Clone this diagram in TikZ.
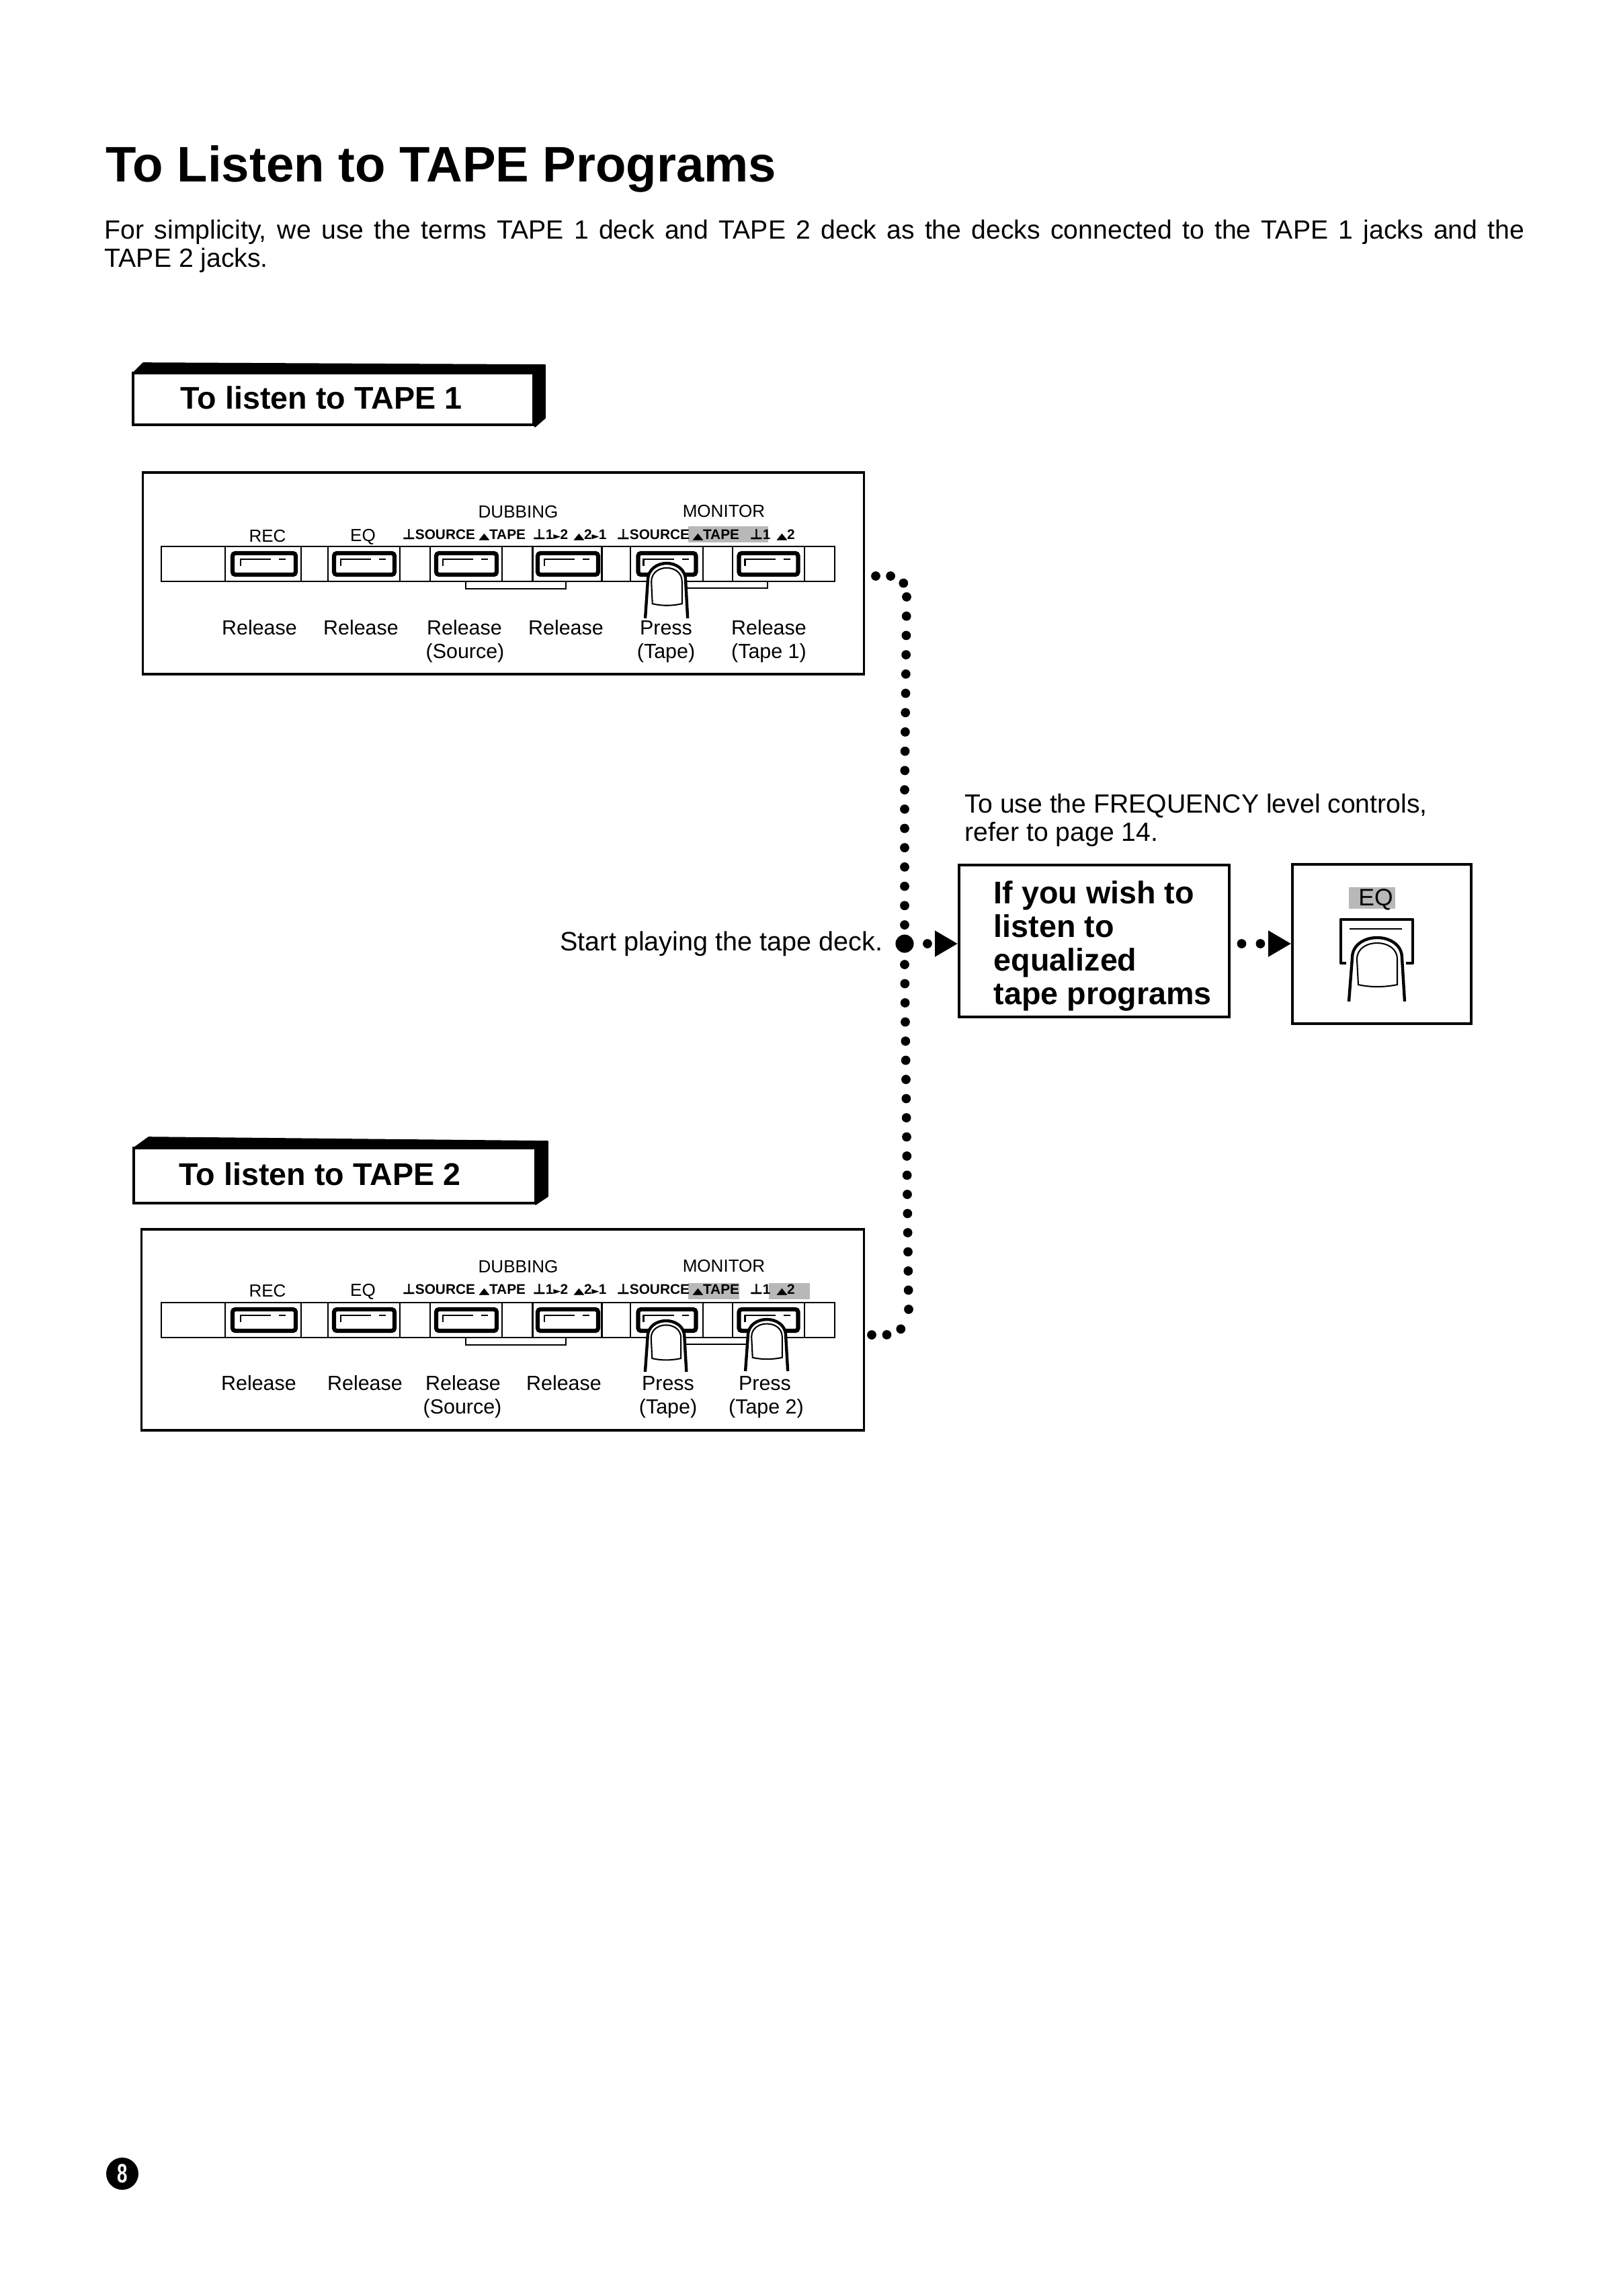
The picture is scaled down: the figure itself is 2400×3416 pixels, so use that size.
\documentclass[tikz,border=0pt]{standalone}
\usepackage{fontspec}
\setmainfont{Liberation Sans}
\newfontfamily\symfont[FakeBold=1.5]{DejaVu Sans}
\usetikzlibrary{arrows.meta,positioning,calc}
\definecolor{lampgray}{gray}{0.72}
\newcommand{\dnsym}{{\symfont ⊥}}
\newcommand{\upsym}{\scalebox{0.95}[0.6]{\symfont ▲}}
\newcommand{\rtsym}{{\fontsize{3.2}{4}\symfont ►}}
\tikzset{
  fullbox/.style={rectangle, draw=black, fill=white, line width=0.85pt, inner sep=0pt},
  tapeband/.style={fill=black, draw=black, line width=0.4pt, line join=round},
  stripcell/.style={rectangle, draw=black, line width=0.55pt, inner sep=0pt},
  keybutton/.style={rectangle, draw=black, line width=1.5pt, rounded corners=1pt, inner sep=0pt},
  keymark/.style={line width=0.55pt},
  keybracket/.style={line width=0.6pt},
  fingerout/.style={draw=black, fill=white, line width=1.05pt, line join=round},
  fingerin/.style={draw=black, line width=0.5pt},
  lamp/.style={rectangle, fill=lampgray, inner sep=0pt},
  pagetitle/.style={anchor=base west, inner sep=0pt, font=\bfseries\fontsize{17.85}{20}\selectfont},
  bodytext/.style={inner sep=0pt, font=\fontsize{9.4}{10.2}\selectfont},
  tapelabel/.style={anchor=base west, inner sep=0pt, font=\bfseries\fontsize{11.2}{13}\selectfont},
  wishtext/.style={inner sep=0pt, align=left, font=\bfseries\fontsize{11.2}{12}\selectfont},
  headlabel/.style={anchor=base, inner sep=0pt, font=\fontsize{6.25}{7}\selectfont},
  keylabel/.style={anchor=base west, inner sep=0pt, font=\bfseries\fontsize{5}{6}\selectfont},
  actlabel/.style={anchor=base, inner sep=0pt, font=\fontsize{7.3}{9}\selectfont},
  dotline/.style={line width=3.3pt, line cap=round},
  dotedge/.style={dotline, -{Triangle[length=8.2pt,width=8.8pt]}}
}
% finger over a key: centre, top, xscale, yscale, name
\newcommand{\fingerpress}[5]{
  \begin{scope}[shift={(#1,#2)},xscale=#3,yscale=#4]
    \path[fingerout] (-42,95) coordinate (#5) -- (-37,30) .. controls (-37,10) and (-18,0) .. (0,0) .. controls (18,0) and (37,10) .. (37,30) -- (41,95);
    \draw[fingerin] (-30,32) .. controls (-30,16) and (-15,8) .. (0,8) .. controls (15,8) and (30,16) .. (30,32) -- (30,70) .. controls (10,74) and (-10,74) .. (-28,70) -- cycle;
  \end{scope}
}
% the row of keys with its captions
\newcommand{\keystrip}[3]{
  \begin{scope}[shift={(0,#2)},name prefix=#1]
    \node[stripcell,minimum width=240.5pt,minimum height=12.5pt] (strip) at (741,839) {};
    \foreach \cx/\cw/\kx/\kw [count=\k] in {391.5/113/393/94,541.5/107/542/90,693.5/107/694/90,844/103/845/90,992/108/992.5/86,1143.5/107/1143.5/88}{
      \node[stripcell,minimum width=\cw*0.24pt,minimum height=12.5pt] (cell\k) at (\cx,839) {};
      \node[keybutton,minimum width=\kw*0.24pt,minimum height=7.7pt] (key\k) at (\kx,839) {};
      \draw[keymark] (\kx-35,842) -- (\kx-35,832) -- (\kx+10,832);
      \draw[keymark] (\kx+22,832) -- (\kx+32,832);
    }
    \draw[keybracket] (693,865) -- (693,876) -- (842,876) -- (842,865);
    \draw[keybracket] (992,865) -- (992,875) -- (1142,875) -- (1142,865);
    \begin{scope}[shift={(0,#3)}]
      \node[headlabel] (rec) at (398,806) {REC};
      \node[headlabel] (eq) at (540,805) {EQ};
      \node[headlabel] (dubbing) at (771,770) {DUBBING};
      \node[headlabel] (monitor) at (1077,769) {MONITOR};
      \node[keylabel] (ksa) at (598,802) {\dnsym SOURCE};
      \node[keylabel] (ksb) at (712,802) {\upsym TAPE};
      \node[keylabel] (ksc) at (792,802) {\dnsym 1\rtsym 2};
      \node[keylabel] (ksd) at (853,802) {\upsym 2\rtsym 1};
      \node[keylabel] (kse) at (917,802) {\dnsym SOURCE};
      \node[keylabel] (ksf) at (1030,802) {\upsym TAPE};
      \node[keylabel] (ksg) at (1115,802) {\dnsym 1};
      \node[keylabel] (ksh) at (1155,802) {\upsym 2};
    \end{scope}
  \end{scope}
}
\begin{document}
\begin{tikzpicture}[x=0.24pt,y=-0.24pt]
  \useasboundingbox (0,0) rectangle (2400,3416);
  % page heading
  \node[pagetitle] (title) at (157,270) {To Listen to TAPE Programs};
  \node[bodytext,anchor=north west,text width=507pt,align=justify] (intro) at (155,326) {For simplicity, we use the terms TAPE 1 deck and TAPE 2 deck as the decks connected to the TAPE 1 jacks and the\linebreak TAPE 2 jacks.};
  % first panel
  \path[tapeband] (198,555) -- (213,540) -- (811,543) -- (811,622) -- (796,635) -- (794,557) -- cycle;
  \node[fullbox,minimum width=143pt,minimum height=18.5pt] (tapeone) at (496,593.5) {};
  \node[tapelabel] (tapeonetext) at (268,608) {To listen to TAPE 1};
  \node[fullbox,minimum width=257.5pt,minimum height=72pt] (panelone) at (749,853) {};
  \node[lamp,minimum width=28.6pt,minimum height=5.8pt] (lampone) at (1083.5,795) {};
  \keystrip{a}{0}{0}
  \fingerpress{992}{838}{0.76}{0.86}{fingerone}
  \foreach \lx/\ltext [count=\i] in {386/Release,537/Release,691/Release,842/Release,991/Press,1144/Release}{
    \node[actlabel] (acta\i) at (\lx,944) {\ltext};
  }
  \node[actlabel] (acta7) at (692,979) {(Source)};
  \node[actlabel] (acta8) at (991,979) {(Tape)};
  \node[actlabel] (acta9) at (1144,979) {(Tape 1)};
  % second panel
  \path[tapeband] (199,1708) -- (221,1692) -- (815,1698) -- (815,1780) -- (797,1792) -- (797,1713) -- cycle;
  \node[fullbox,minimum width=143.5pt,minimum height=19.7pt] (tapetwo) at (498,1749) {};
  \node[tapelabel] (tapetwotext) at (266,1763) {To listen to TAPE 2};
  \node[fullbox,minimum width=258pt,minimum height=71.8pt] (paneltwo) at (748,1978.5) {};
  \node[lamp,minimum width=18.2pt,minimum height=5.8pt] (lamptwo) at (1062,1921) {};
  \node[lamp,minimum width=14.6pt,minimum height=5.8pt] (lampthree) at (1174.5,1921) {};
  \keystrip{b}{1125}{-2}
  \fingerpress{991}{1965}{0.74}{0.8}{fingertwo}
  \fingerpress{1141}{1963}{0.76}{0.81}{fingerthree}
  \foreach \lx/\ltext [count=\i] in {385/Release,543/Release,689/Release,839/Release,994/Press,1138/Press}{
    \node[actlabel] (actb\i) at (\lx,2068) {\ltext};
  }
  \node[actlabel] (actb7) at (688,2103) {(Source)};
  \node[actlabel] (actb8) at (994,2103) {(Tape)};
  \node[actlabel] (actb9) at (1140,2103) {(Tape 2)};
  % centre of the page
  \node[bodytext,anchor=base east,font=\fontsize{9.5}{11}\selectfont] (starttext) at (1314,1414) {Start playing the tape deck.};
  \node[bodytext,anchor=north west,align=left] (freqnote) at (1435,1180) {To use the FREQUENCY level controls,\\refer to page 14.};
  \node[fullbox,minimum width=96.5pt,minimum height=54.2pt] (wish) at (1628,1400) {};
  \node[wishtext,anchor=north west] (wishlabel) at (1478,1310) {If you wish to\\listen to\\equalized\\tape programs};
  \node[fullbox,minimum width=63.8pt,minimum height=56.9pt] (eqpanel) at (2056,1404.5) {};
  \node[lamp,minimum width=16.6pt,minimum height=7.7pt] (eqlamp) at (2041.5,1336) {};
  \node[anchor=base,inner sep=0pt,font=\fontsize{8.5}{10}\selectfont] (eqlabel) at (2047,1347) {EQ};
  \draw[line width=1.1pt,line join=round] (2003,1433) -- (1995,1433) -- (1995,1368) -- (2102,1368) -- (2102,1433) -- (2092,1433);
  \draw[keymark] (2008,1382) -- (2086,1382);
  \fingerpress{2049}{1395}{1}{1}{fingereq}
  % dotted run
  \node[circle,fill=black,inner sep=0pt,minimum size=6.5pt] (bigdot) at (1346,1404) {};
  \coordinate (dotsa) at (1303,857);
  \coordinate (dotsb) at (1326,857);
  \coordinate (dotsc) at (1345,868);
  \coordinate (dotsd) at (1349,888);
  \coordinate (dotse) at (1346,1174);
  \coordinate (dotsf) at (1346,1377);
  \coordinate (dotsg) at (1297,1986);
  \coordinate (dotsh) at (1319,1986);
  \coordinate (dotsi) at (1341,1977);
  \coordinate (dotsj) at (1346,1435);
  \coordinate (dotsk) at (1352,1949);
  \draw[dotline,dash pattern=on 0pt off 5.3pt] (dotsa) -- (dotsb) -- (dotsc);
  \draw[dotline,dash pattern=on 0pt off 6.89pt] (dotsd) -- (dotse) -- (dotsf);
  \draw[dotline,dash pattern=on 0pt off 5.4pt] (dotsg) -- (dotsh) -- (dotsi);
  \draw[dotline,dash pattern=on 0pt off 6.84pt] (dotsj) -- (dotsk);
  \draw[dotedge,dash pattern=on 0pt off 4.8pt,dash phase=0.1pt] (bigdot) -- (bigdot -| wish.west);
  \draw[dotedge,dash pattern=on 0pt off 6.7pt,dash phase=2.7pt] (wish.east |- bigdot) -- (eqpanel.west |- bigdot);
  % page number
  \node[circle,fill=black,text=white,inner sep=0pt,minimum size=11.5pt,font=\bfseries\fontsize{9.5}{10}\selectfont] (pagenum) at (182,3234) {\scalebox{.7}[1]{8}};
\end{tikzpicture}
\end{document}
